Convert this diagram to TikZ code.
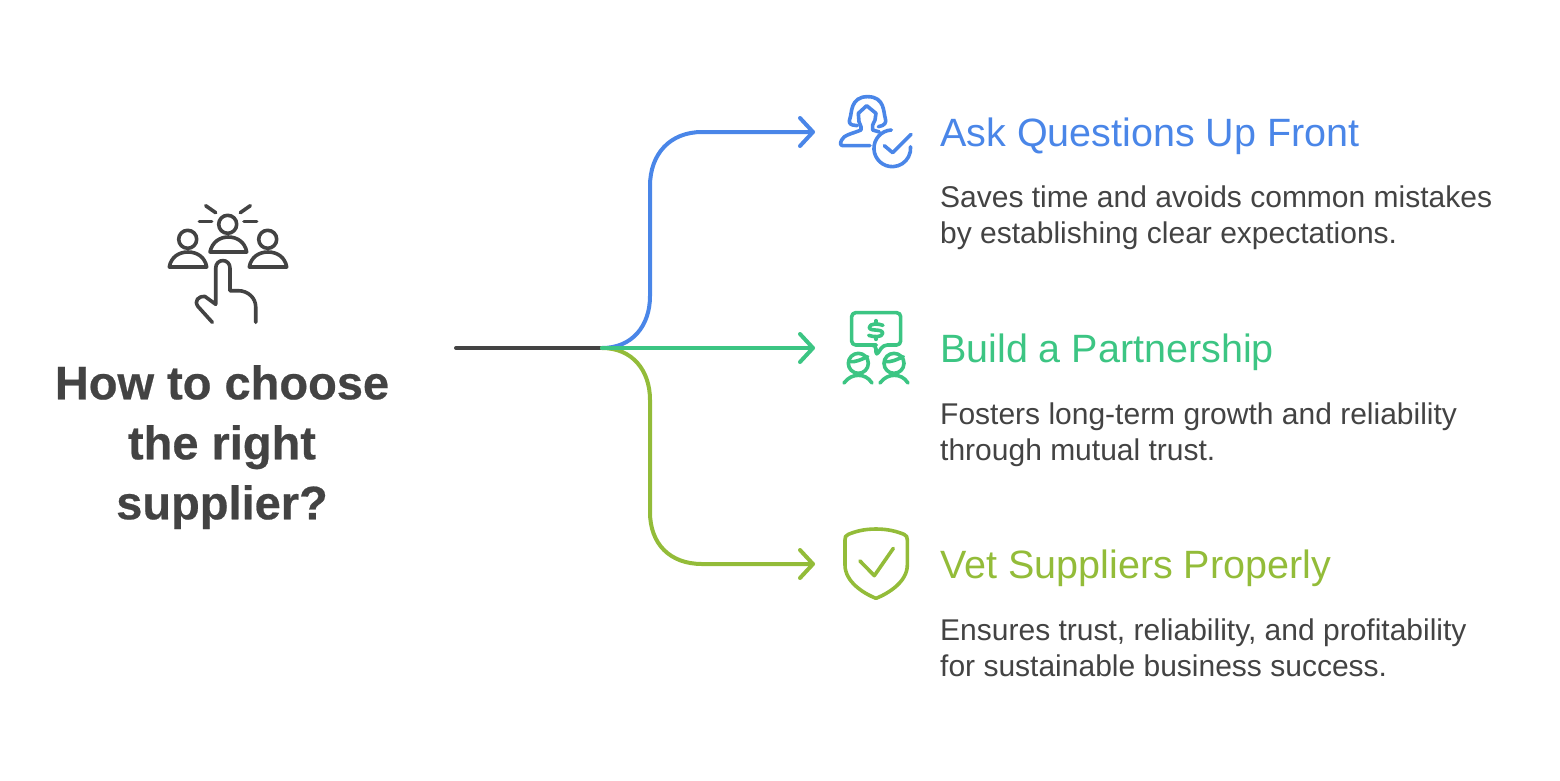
\documentclass[tikz,border=0pt]{standalone}
\usepackage{fontspec}
\setmainfont[BoldFeatures={FakeBold=0.5}]{Liberation Sans}
\definecolor{cdark}{HTML}{434343}
\definecolor{cblue}{HTML}{4A86E8}
\definecolor{cgreen}{HTML}{3CC583}
\definecolor{clime}{HTML}{93BC39}
\tikzset{
  conn/.style={line width=4pt,line cap=round},
  icon/.style={line width=3.6pt,line cap=round,line join=round},
  head/.style={anchor=base west,inner sep=0pt,font=\fontsize{39.5}{39.5}\selectfont},
  bodytxt/.style={anchor=north west,inner sep=0pt,align=left,text=cdark,font=\fontsize{30}{36}\selectfont},
  titletxt/.style={anchor=north,inner sep=0pt,align=center,text=cdark,font=\fontsize{47}{60}\selectfont\bfseries}
}
\begin{document}
\begin{tikzpicture}[x=1pt,y=-1pt]
\useasboundingbox (0,0) rectangle (1560,780);
% text
\node[titletxt] (title) at (222,365) {How to choose\\the right\\supplier?};
\node[head,text=cblue] (h1) at (940,146) {Ask Questions Up Front};
\node[head,text=cgreen] (h2) at (940,362) {Build a Partnership};
\node[head,text=clime] (h3) at (940,578) {Vet Suppliers Properly};
\node[bodytxt] (b1) at (940,186) {Saves time and avoids common mistakes\\by establishing clear expectations.};
\node[bodytxt] (b2) at (940,403) {Fosters long-term growth and reliability\\through mutual trust.};
\node[bodytxt] (b3) at (940,619) {Ensures trust, reliability, and profitability\\for sustainable business success.};
% connectors
\coordinate (start) at (456,348);
\coordinate (hub) at (602,348);
\coordinate (e1) at (813,132);
\coordinate (e2) at (813,348);
\coordinate (e3) at (813,564);
\draw[conn,cdark] (start) -- (hub);
\draw[conn,cblue] (hub) .. controls (632,348) and (650,326) .. (650,296) -- (650,186) .. controls (650,154) and (670,132) .. (702,132) -- (e1);
\draw[conn,clime] (hub) .. controls (632,348) and (650,370) .. (650,400) -- (650,512) .. controls (650,544) and (670,564) .. (702,564) -- (e3);
\draw[conn,cgreen] (hub) -- (e2);
\draw[conn,line join=round,cblue] (800,118) -- (e1) -- (800,146);
\draw[conn,line join=round,cgreen] (800,334) -- (e2) -- (800,362);
\draw[conn,line join=round,clime] (800,550) -- (e3) -- (800,578);
% icon: people and hand
\begin{scope}[icon,cdark]
\draw (227.7,224.3) circle (9);
\draw (187.7,239.3) circle (9);
\draw (267.7,239.3) circle (9);
\draw (210,252) .. controls (212,242) and (220,237) .. (228.3,237) .. controls (237,237) and (245,242) .. (246.7,252) -- cycle;
\draw (169.3,267) .. controls (171,257) and (179,252) .. (188,252) .. controls (197,252) and (205,257) .. (206.7,267) -- cycle;
\draw (249.3,267) .. controls (251,257) and (259,252) .. (268,252) .. controls (277,252) and (285,257) .. (286.7,267) -- cycle;
\draw (199.3,221.3) -- (211.7,221.3);
\draw (244,221.3) -- (256.7,221.3);
\draw (205.7,205.7) -- (215.7,212.7);
\draw (240.3,212.7) -- (250.3,205.7);
\draw (212.3,322.3) -- (198,306.5) .. controls (194,301) and (198,296) .. (205,296.5) -- (215.7,304.3) -- (215.7,268.3) .. controls (215.7,258) and (230,258) .. (230,268.3) -- (230,290.7) -- (238.3,290.7) .. controls (248,290.7) and (255.7,298) .. (255.7,306.7) -- (255.7,322.3);
\end{scope}
% icon: person with check
\begin{scope}[icon,cblue,shift={(800,85)},x=0.3333pt,y=-0.3333pt]
\draw (172,122) -- (158,120) .. controls (148,118) and (146,110) .. (150,100) .. controls (156,85) and (150,35) .. (203,35) .. controls (256,35) and (250,85) .. (256,100) .. controls (260,112) and (255,122) .. (235,125);
\draw (210,182) -- (130,182) .. controls (120,182) and (120,175) .. (125,165) .. controls (130,150) and (160,145) .. (183,135) -- (183,125) -- (177,110) -- (175,85) -- (200,62) -- (228,85) -- (225,105) -- (218,120) -- (218,135) -- (238,141);
\draw (274,135) arc[start angle=267,end angle=-5,radius=55];
\draw (253,182) -- (278,203) -- (333,148);
\end{scope}
% icon: speech bubble with dollar
\begin{scope}[icon,cgreen,shift={(800,300)},x=0.3333pt,y=-0.3333pt]
\draw[rounded corners=4pt] (217,135) -- (155,135) -- (155,38) -- (302,38) -- (302,135) -- (250,135) -- (228,168) -- (228,135) -- cycle;
\draw (249,76) .. controls (235,70) and (208,70) .. (208,82) .. controls (208,96) and (248,84) .. (248,100) .. controls (248,112) and (220,112) .. (206,106);
\draw (228,62) -- (228,70);
\draw (228,112) -- (228,118);
\draw (175,190) circle (30);
\draw (282,190) circle (30);
\draw (147,185) .. controls (165,188) and (185,178) .. (203,170);
\draw (254,185) .. controls (272,188) and (292,178) .. (310,170);
\draw (132,249) .. controls (145,232) and (160,226) .. (175,226) .. controls (190,226) and (205,232) .. (216,249);
\draw (240,249) .. controls (253,232) and (268,226) .. (283,226) .. controls (298,226) and (313,232) .. (324,249);
\end{scope}
% icon: shield with check
\begin{scope}[icon,clime,shift={(800,515)},x=0.3333pt,y=-0.3333pt]
\draw (228,42) .. controls (190,42) and (165,50) .. (145,58) .. controls (136,62) and (135,66) .. (135,75) -- (135,150) .. controls (135,200) and (190,235) .. (228,250) .. controls (266,235) and (322,200) .. (322,150) -- (322,75) .. controls (322,66) and (320,62) .. (312,58) .. controls (292,50) and (266,42) .. (228,42) -- cycle;
\draw (180,138) -- (223,182) -- (280,100);
\end{scope}
\end{tikzpicture}
\end{document}
